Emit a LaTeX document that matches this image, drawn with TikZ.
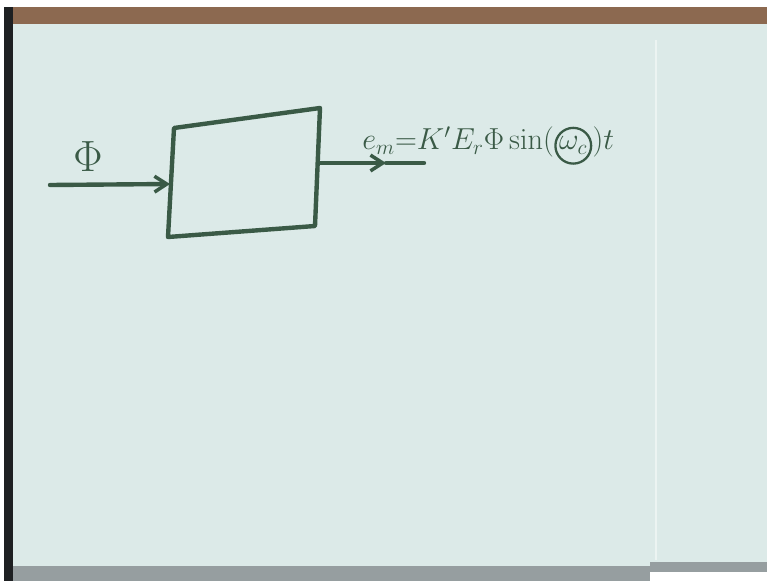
\documentclass[tikz,border=0pt]{standalone}
\usepackage{amsmath, amssymb}
\usepackage{tikz}
\usetikzlibrary{arrows.meta,positioning}
\usepackage{xcolor}
\definecolor{boardblue}{RGB}{220,234,232}
\definecolor{inkgreen}{RGB}{58,90,70}
\definecolor{framebrown}{RGB}{140,105,80}
\definecolor{framedark}{RGB}{30,32,34}
\definecolor{traygrey}{RGB}{150,158,160}

\tikzset{
  wire/.style={line width=2.5pt,inkgreen,line cap=round,line join=round},
  barb/.style={-{Straight Barb[length=7pt,width=9pt,line width=2pt]}},
  ink/.style={inkgreen,inner sep=0pt},
  eqfont/.style={font=\fontsize{17}{20}\selectfont}
}

\begin{document}
\begin{tikzpicture}[x=0.02cm,y=-0.02cm]
    \useasboundingbox (0,0) rectangle (767,581);
    % Board and frame
    \fill[white] (0,0) rectangle (767,581);
    \fill[boardblue] (12,22) rectangle (767,568);
    \fill[framebrown] (8,7) rectangle (767,24);
    \fill[framedark] (4,7) rectangle (13,581);
    \fill[traygrey] (13,566) rectangle (650,581);
    \fill[traygrey] (650,562) rectangle (767,572);
    \draw[white!45!boardblue,line width=0.8pt] (656,40) -- (656,560);
    % Box corners
    \coordinate (boxTL) at (174,128);
    \coordinate (boxTR) at (320,108);
    \coordinate (boxBR) at (315,226);
    \coordinate (boxBL) at (168,237);
    \draw[wire] (boxTL) -- (boxTR) -- (boxBR) -- (boxBL) -- cycle;
    % Input arrow
    \coordinate (inStart) at (50,185);
    \coordinate (inEnd) at (170,184);
    \draw[wire,barb] (inStart) -- (inEnd);
    \node[ink,font=\fontsize{30}{32}\selectfont] (phiIn) at (88,157) {$\Phi$};
    % Output arrow with tip in the middle
    \coordinate (outStart) at (318,163);
    \coordinate (outMid) at (386,163);
    \coordinate (outEnd) at (424,163);
    \draw[wire,barb] (outStart) -- (outMid);
    \draw[wire] (outMid) -- (outEnd);
    % Output equation
    \node[ink,eqfont,anchor=base west] (eqLeft) at (362,150)
      {$e_m{=}K'E_r\Phi\sin($};
    \node[ink,eqfont,anchor=base west,draw,circle,
      line width=1.3pt,inner sep=0.5pt] (omegaC) at (eqLeft.base east) {$\omega_c$};
    \node[ink,eqfont,anchor=base west] (eqRight) at (omegaC.base east)
      {$)t$};
\end{tikzpicture}
\end{document}
